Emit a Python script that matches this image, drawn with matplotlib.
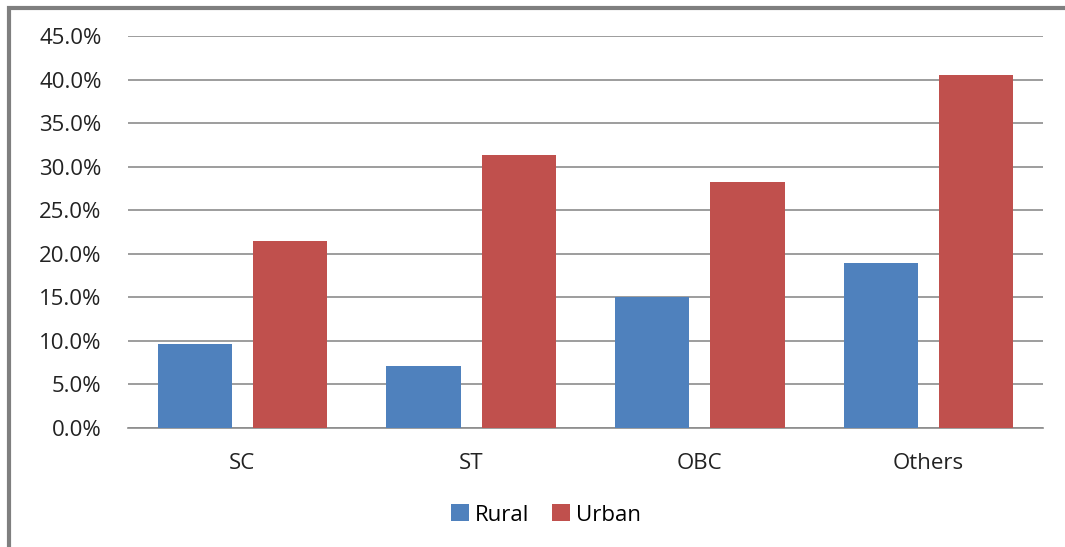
import numpy as np
import matplotlib.pyplot as plt
from matplotlib.ticker import FuncFormatter, MultipleLocator
from matplotlib.patches import Rectangle

plt.rcParams['font.family'] = ['Open Sans', 'DejaVu Sans']

categories = ['SC', 'ST', 'OBC', 'Others']
rural = [9.6, 7.1, 15.0, 18.9]
urban = [21.5, 31.3, 28.2, 40.5]

blue = '#4F81BD'
red = '#C0504D'

fig = plt.figure(figsize=(10.65, 5.47), dpi=100)
ax = fig.add_axes([128 / 1065, 1 - 428 / 547, 915 / 1065, 392 / 547])

x = np.arange(len(categories))
width = 0.325
ax.bar(x - 0.208, rural, width, color=blue, label='Rural', zorder=3)
ax.bar(x + 0.208, urban, width, color=red, label='Urban', zorder=3)

ax.set_xlim(-0.5, len(categories) - 0.5)
ax.set_ylim(0, 45)
ax.yaxis.set_major_locator(MultipleLocator(5))
ax.yaxis.set_major_formatter(FuncFormatter(lambda v, p: f'{v:.1f}%'))
ax.grid(axis='y', color='#8c8c8c', linewidth=1.2, zorder=0)
ax.set_axisbelow(True)

for s in ['top', 'right', 'left']:
    ax.spines[s].set_visible(False)
ax.spines['bottom'].set_color('#8c8c8c')
ax.spines['bottom'].set_linewidth(1.2)

ax.set_xticks(x)
ax.set_xticklabels(categories)
ax.tick_params(axis='both', length=0, labelsize=16, colors='#222222')
ax.tick_params(axis='y', pad=19)
ax.tick_params(axis='x', pad=18)

fig.legend(loc='center', bbox_to_anchor=(546 / 1065, 1 - 515 / 547),
           ncol=2, frameon=False, fontsize=16, handlelength=0.8,
           handleheight=0.8, columnspacing=1.0, handletextpad=0.3)

# grey frame along the left and top edges
fig.add_artist(Rectangle((9 / 1065, -0.5), 2, 1.5 - 8 / 547,
                         transform=fig.transFigure, fill=False,
                         edgecolor='#7f7f7f', linewidth=3))

fig.savefig('out.png', dpi=100)
